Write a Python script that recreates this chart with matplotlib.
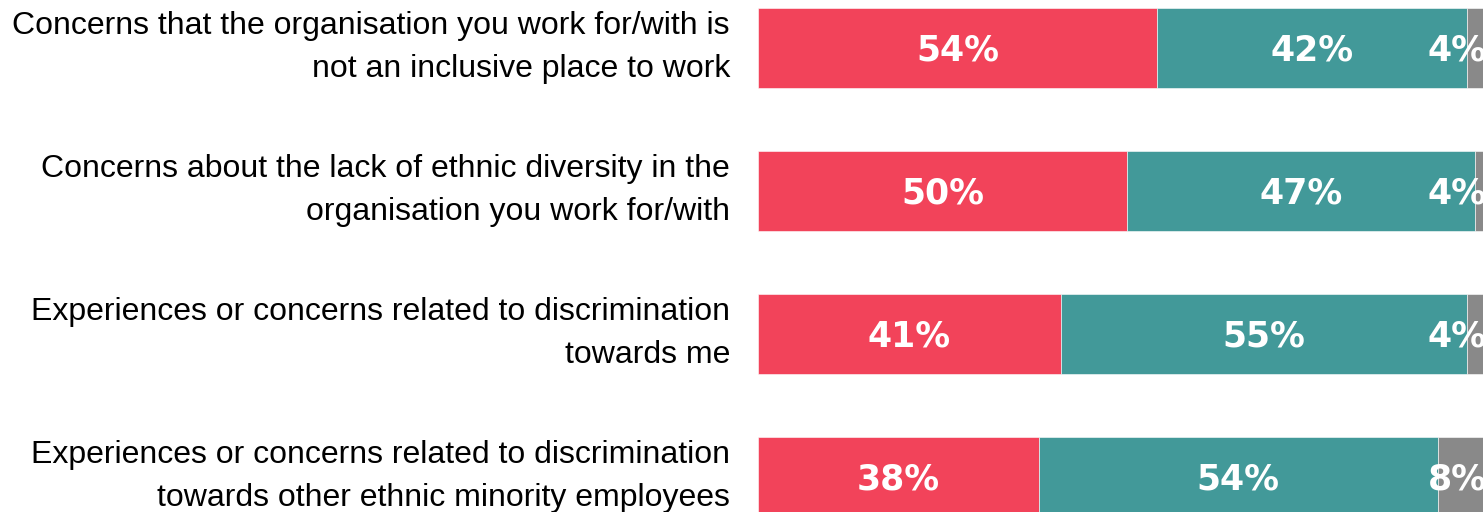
import matplotlib
matplotlib.use('Agg')
import matplotlib.pyplot as plt

# Datos de la encuesta (porcentajes por categoría)
categorias = [
    'Concerns that the organisation you work for/with is\nnot an inclusive place to work',
    'Concerns about the lack of ethnic diversity in the\norganisation you work for/with',
    'Experiences or concerns related to discrimination\ntowards me',
    'Experiences or concerns related to discrimination\ntowards other ethnic minority employees',
]
serie_a = [54, 50, 41, 38]
serie_b = [42, 47, 55, 54]
serie_c = [4, 4, 4, 8]

colores = ['#F2435A', '#429999', '#898989']

W, H = 1483, 512
fig = plt.figure(figsize=(W / 100, H / 100), dpi=100)
# El eje se sale por la derecha: el 100% queda fuera de la imagen
ax = fig.add_axes([758 / W, 0, 739 / W, 1])

y = list(range(len(categorias)))
izq = [0] * len(y)
for vals, col in zip([serie_a, serie_b, serie_c], colores):
    ax.barh(y, vals, left=izq, height=80 / 143, color=col,
            edgecolor='#ffffff', linewidth=0.4)
    for i, (v, l) in enumerate(zip(vals, izq)):
        # las etiquetas del final se recortan contra el borde
        xc = min(l + v / 2, 94.6)
        ax.text(xc, i + 0.02, f'{v}%', ha='center', va='center', color='white',
                fontsize=25, fontweight='bold', family='DejaVu Sans')
    izq = [a + b for a, b in zip(izq, vals)]

ax.set_xlim(0, 100)
ax.set_ylim((H - 48) / 143, -48 / 143)
ax.axis('off')

for i, cat in enumerate(categorias):
    fig.text(730 / W, 1 - (47.5 + 143 * i) / H, cat, ha='right', va='center',
             fontsize=23, family='Liberation Sans', linespacing=1.58, color='black')

fig.savefig('out.png', dpi=100)
